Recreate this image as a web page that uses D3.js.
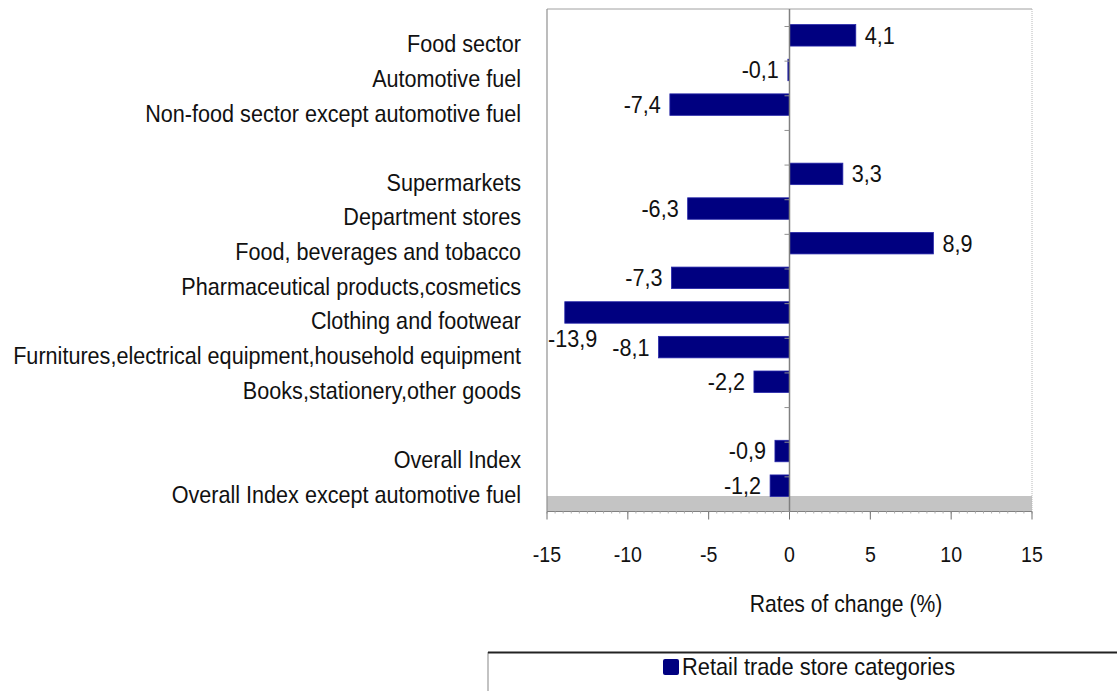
<!DOCTYPE html>
<html>
<head>
<meta charset="utf-8">
<script src="https://cdn.jsdelivr.net/npm/d3@7"></script>
<style>
  body { margin: 0; background: #fff; }
  text { font-family: "Liberation Sans", Arial, sans-serif; fill: #111; }
</style>
</head>
<body>
<svg id="chart"></svg>
<script>
const categories = [
  "Food sector",
  "Automotive fuel",
  "Non-food sector except automotive fuel",
  "",
  "Supermarkets",
  "Department stores",
  "Food, beverages and tobacco",
  "Pharmaceutical products,cosmetics",
  "Clothing and footwear",
  "Furnitures,electrical equipment,household equipment",
  "Books,stationery,other goods",
  "",
  "Overall Index",
  "Overall Index except automotive fuel",
];
const values = [4.1, -0.1, -7.4, null, 3.3, -6.3, 8.9, -7.3, -13.9, -8.1, -2.2, null, -0.9, -1.2];
const xTicks = [-15, -10, -5, 0, 5, 10, 15];
const seriesName = "Retail trade store categories";
const axisTitle = "Rates of change (%)";

const width = 1117;
const height = 691;
const plot = { left: 547, right: 1032, top: 9, bottom: 511.5 };
const floorHeight = 15.5;
const barShift = 8.5;
const navy = "#000080";

const svg = d3.select("#chart").attr("width", width).attr("height", height);

const fmt = d3.formatLocale({
  decimal: ",", thousands: ".", grouping: [3], currency: ["", ""], minus: "-",
}).format(".1f");

const x = d3.scaleLinear().domain([-15, 15]).range([plot.left, plot.right]);
const y = d3
  .scaleBand()
  .domain(d3.range(categories.length))
  .range([26.5, plot.bottom])
  .paddingInner(0.38)
  .paddingOuter(0.19);

// squeezed text, the original looks a bit tall and narrow
function label(parent, tx, ty, str, size, anchor, sx = 0.9) {
  return parent
    .append("text")
    .attr("transform", `translate(${tx},${ty}) scale(${sx},1)`)
    .attr("text-anchor", anchor)
    .attr("dy", "0.35em")
    .style("font-size", size + "px")
    .text(str);
}

// plot frame
svg.append("rect")
  .attr("x", plot.left).attr("y", plot.top)
  .attr("width", plot.right - plot.left).attr("height", plot.bottom - plot.top)
  .attr("fill", "#fff");
svg.append("rect")
  .attr("x", plot.left).attr("y", plot.bottom - floorHeight)
  .attr("width", plot.right - plot.left).attr("height", floorHeight)
  .attr("fill", "#c4c4c4");
svg.append("line")
  .attr("x1", plot.left).attr("x2", plot.right)
  .attr("y1", plot.top).attr("y2", plot.top)
  .attr("stroke", "#a0a0a0");
svg.append("line")
  .attr("x1", plot.left).attr("x2", plot.left)
  .attr("y1", plot.top).attr("y2", plot.bottom)
  .attr("stroke", "#909090").attr("stroke-width", 1.2);
svg.append("line")
  .attr("x1", plot.right).attr("x2", plot.right)
  .attr("y1", plot.top).attr("y2", plot.bottom)
  .attr("stroke", "#b8b8b8").attr("stroke-dasharray", "1,1");

// x axis
const xAxis = svg.append("g").attr("transform", `translate(0,${plot.bottom})`);
xAxis.append("line")
  .attr("x1", plot.left).attr("x2", plot.right)
  .attr("stroke", "#808080");
xAxis.selectAll(".minor")
  .data(d3.range(-15, 15.01, 0.5))
  .enter()
  .append("line")
  .attr("x1", (d) => x(d)).attr("x2", (d) => x(d))
  .attr("y1", 0).attr("y2", 2)
  .attr("stroke", "#b0b0b0");
xAxis.selectAll(".major")
  .data(xTicks)
  .enter()
  .append("line")
  .attr("x1", (d) => x(d)).attr("x2", (d) => x(d))
  .attr("y1", 0).attr("y2", 8)
  .attr("stroke", "#707070");
xTicks.forEach((t) => label(svg, x(t), 554, fmt(t).replace(",0", ""), 22, "middle", 0.89));

label(svg, 846, 604, axisTitle, 24, "middle", 0.88);

// bars
svg.append("g")
  .selectAll("rect")
  .data(values.map((v, i) => ({ v, i })).filter((d) => d.v !== null))
  .enter()
  .append("rect")
  .attr("x", (d) => x(Math.min(0, d.v)))
  .attr("y", (d) => y(d.i) - barShift)
  .attr("width", (d) => Math.abs(x(d.v) - x(0)))
  .attr("height", y.bandwidth())
  .attr("fill", navy)
  .attr("stroke", "#2626a8")
  .attr("stroke-width", 0.8);

// zero line with category ticks
svg.append("line")
  .attr("x1", x(0)).attr("x2", x(0))
  .attr("y1", plot.top).attr("y2", plot.bottom)
  .attr("stroke", "#808080").attr("stroke-width", 1.5);
svg.append("g")
  .selectAll("line")
  .data(d3.range(categories.length + 1))
  .enter()
  .append("line")
  .attr("x1", x(0) - 5).attr("x2", x(0))
  .attr("y1", (k) => y.range()[0] + k * y.step())
  .attr("y2", (k) => y.range()[0] + k * y.step())
  .attr("stroke", "#909090");

// category labels
categories.forEach((c, i) => {
  if (c) label(svg, 521, y(i) + y.bandwidth() / 2, c, 24, "end");
});

// value labels
const gap = 9;
values.forEach((v, i) => {
  if (v === null) return;
  const cy = y(i) - barShift + y.bandwidth() / 2;
  const txt = fmt(v);
  if (v >= 0) {
    label(svg, x(v) + gap, cy, txt, 24, "start");
  } else if (x(v) - gap - 55 < plot.left) {
    label(svg, plot.left + 1, cy + y.bandwidth() + 5, txt, 24, "start");
  } else {
    label(svg, x(v) - gap, cy, txt, 24, "end");
  }
});

// legend
const legend = svg.append("g");
legend.append("rect")
  .attr("x", 488).attr("y", 652.5)
  .attr("width", width - 488 + 5).attr("height", 60)
  .attr("fill", "#fff").attr("stroke", "#888");
legend.append("line")
  .attr("x1", 488).attr("x2", width)
  .attr("y1", 652.5).attr("y2", 652.5)
  .attr("stroke", "#222").attr("stroke-width", 2);
legend.append("rect")
  .attr("x", 663).attr("y", 659)
  .attr("width", 16).attr("height", 16)
  .attr("rx", 2)
  .attr("fill", navy);
label(legend, 682, 667, seriesName, 24, "start", 0.91);
</script>
</body>
</html>
